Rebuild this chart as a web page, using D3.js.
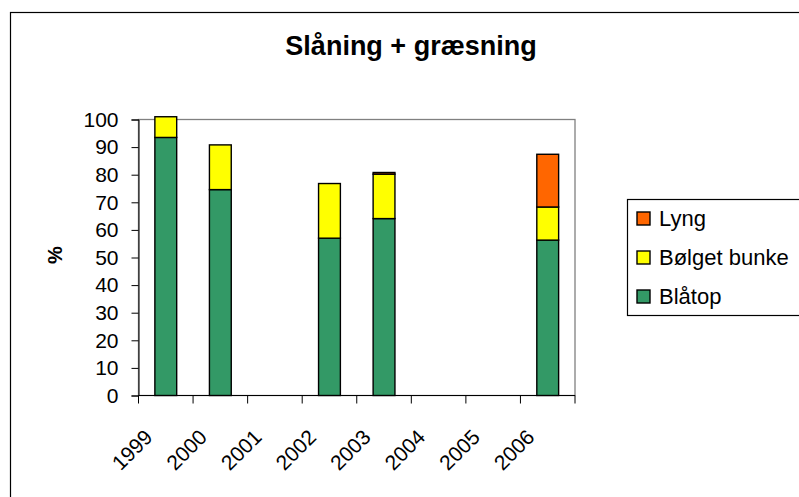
<!DOCTYPE html>
<html>
<head>
<meta charset="utf-8">
<script src="https://cdn.jsdelivr.net/npm/d3@7"></script>
<style>
  html, body { margin: 0; padding: 0; background: #fff; }
  svg { display: block; font-family: "Liberation Sans", Arial, sans-serif; }
</style>
</head>
<body>
<svg id="chart" width="799" height="497"></svg>
<script>
// Years on the category axis
const years = ["1999", "2000", "2001", "2002", "2003", "2004", "2005", "2006"];
// Cover (%) per species, stacked bottom to top
const blaatop = [93.5, 74.6, 0, 57.0, 64.1, 0, 0, 56.3];
const boelgetBunke = [7.5, 16.2, 0, 19.8, 16.1, 0, 0, 12.0];
const lyng = [0, 0, 0, 0, 0.6, 0, 0, 19.1];
const yTicks = [0, 10, 20, 30, 40, 50, 60, 70, 80, 90, 100];

const seriesNames = ["Blåtop", "Bølget bunke", "Lyng"];
const seriesColors = ["#339966", "#ffff00", "#ff6600"];

const rows = years.map((y, i) => ({
  year: y,
  "Blåtop": blaatop[i],
  "Bølget bunke": boelgetBunke[i],
  "Lyng": lyng[i]
}));

const svg = d3.select("#chart");
const plot = { left: 138.5, right: 575, top: 119.5, bottom: 395.5 };

// Outer chart frame
svg.append("rect")
  .attr("x", 10.5).attr("y", 12.5)
  .attr("width", 820).attr("height", 520)
  .attr("fill", "#fff").attr("stroke", "#000").attr("stroke-width", 1.2);

// Title
svg.append("text")
  .attr("x", 411).attr("y", 55)
  .attr("text-anchor", "middle")
  .attr("font-size", 27).attr("font-weight", "bold")
  .text("Slåning + græsning");

const x = d3.scaleBand().domain(years).range([plot.left, plot.right]).paddingInner(0).paddingOuter(0);
const y = d3.scaleLinear().domain([0, 100]).range([plot.bottom, plot.top]);

// Plot area frame (grey top/right)
svg.append("rect")
  .attr("x", plot.left).attr("y", plot.top)
  .attr("width", plot.right - plot.left).attr("height", plot.bottom - plot.top)
  .attr("fill", "#fff").attr("stroke", "#808080").attr("stroke-width", 1.3);

// Stacked bars
const stack = d3.stack().keys(seriesNames);
const layers = stack(rows);
const barW = x.bandwidth() * 0.4;

svg.append("g").selectAll("g")
  .data(layers)
  .join("g")
  .attr("fill", (d, i) => seriesColors[i])
  .selectAll("rect")
  .data(d => d.filter(s => s[1] - s[0] > 0))
  .join("rect")
  .attr("x", d => x(d.data.year) + (x.bandwidth() - barW) / 2)
  .attr("y", d => y(d[1]))
  .attr("width", barW)
  .attr("height", d => y(d[0]) - y(d[1]))
  .attr("stroke", "#000").attr("stroke-width", 1.4);

// Y axis
const yAxis = svg.append("g")
  .attr("transform", `translate(${plot.left},0)`)
  .call(d3.axisLeft(y).tickValues(yTicks).tickSize(7).tickPadding(13).tickFormat(d3.format("d")));
yAxis.select(".domain").attr("stroke", "#000");
yAxis.selectAll(".tick line").attr("stroke", "#000");
yAxis.selectAll("text").attr("font-size", 21).attr("fill", "#000")
  .attr("font-family", "Liberation Sans, Arial, sans-serif");

// X axis with ticks on category boundaries
const xAxisG = svg.append("g").attr("transform", `translate(0,${plot.bottom})`);
xAxisG.append("line")
  .attr("x1", plot.left).attr("x2", plot.right)
  .attr("stroke", "#000");
const bounds = years.map(d => x(d)).concat([plot.right]);
xAxisG.selectAll("line.tk").data(bounds).join("line")
  .attr("class", "tk")
  .attr("x1", d => d).attr("x2", d => d)
  .attr("y1", 0).attr("y2", 8)
  .attr("stroke", "#000");
xAxisG.selectAll("text").data(years).join("text")
  .attr("transform", d => `translate(${x(d) + x.bandwidth() / 2 - 12},${43}) rotate(-45)`)
  .attr("text-anchor", "end")
  .attr("font-size", 21)
  .text(d => d);

// Y axis title
svg.append("text")
  .attr("transform", `translate(62,255) rotate(-90)`)
  .attr("text-anchor", "middle")
  .attr("font-size", 20).attr("font-weight", "bold")
  .text("%");

// Legend
const lg = svg.append("g").attr("transform", "translate(627,199)");
lg.append("rect")
  .attr("x", 0.5).attr("y", 0.5).attr("width", 200).attr("height", 116)
  .attr("fill", "#fff").attr("stroke", "#000").attr("stroke-width", 1.2);
const legendOrder = [2, 1, 0];
lg.selectAll("g.item").data(legendOrder).join("g")
  .attr("class", "item")
  .attr("transform", (d, i) => `translate(10,${19 + i * 39})`)
  .each(function (d) {
    const g = d3.select(this);
    g.append("rect").attr("x", 0).attr("y", -6).attr("width", 13).attr("height", 13)
      .attr("fill", seriesColors[d]).attr("stroke", "#000").attr("stroke-width", 1.4);
    g.append("text").attr("x", 22).attr("y", 0).attr("dy", "0.35em")
      .attr("font-size", 22).text(seriesNames[d]);
  });
</script>
</body>
</html>
